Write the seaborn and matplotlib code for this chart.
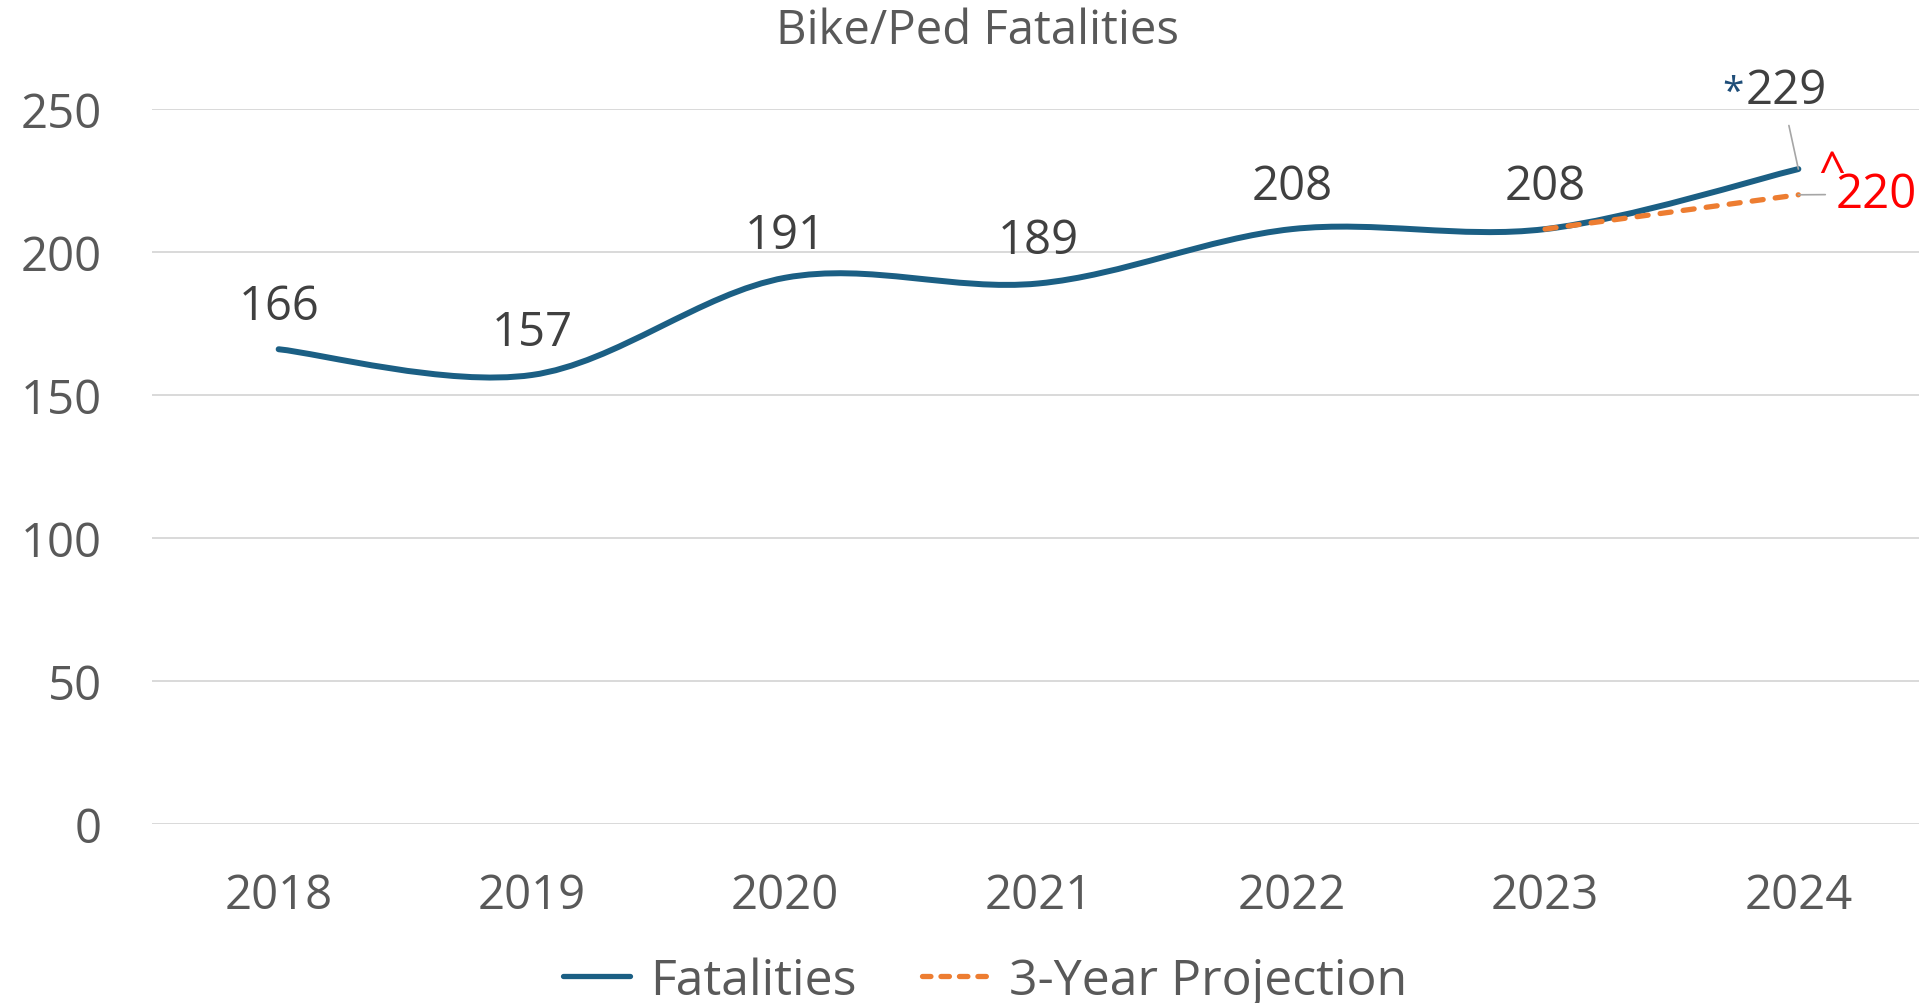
import numpy as np
import pandas as pd
import matplotlib
matplotlib.use("Agg")
import matplotlib.pyplot as plt
from matplotlib.path import Path
from matplotlib.patches import PathPatch
from matplotlib.lines import Line2D
import seaborn as sns

# ---- data ----
years = ["2018", "2019", "2020", "2021", "2022", "2023", "2024"]
fatalities = [166, 157, 191, 189, 208, 208, 229]
proj_years = ["2023", "2024"]
projection = [208, 220]
yticks = [0, 50, 100, 150, 200, 250]

title = "Bike/Ped Fatalities"
series_names = ["Fatalities", "3-Year Projection"]

# ---- style ----
sns.set_theme(style="whitegrid")
plt.rcParams["font.family"] = ["Open Sans", "DejaVu Sans"]

BLUE = "#1B5F84"
ORANGE = "#ED7D31"
GRID = "#D9D9D9"
TICK = "#595959"
LABEL = "#404040"
FS = 34
LW_MAIN = 4.3
LW_PROJ = 3.8
DASH = (0, (2.1, 2.3))

W, H = 1919, 1004
fig = plt.figure(figsize=(W / 100, H / 100), dpi=100)
fig.patch.set_facecolor("white")
ax = fig.add_axes([152 / W, 1 - 825 / H, (1925 - 152) / W, (825 - 110) / H])
ax.set_facecolor("white")

df = pd.DataFrame({"Year": years, "Fatalities": fatalities})
dfp = pd.DataFrame({"Year": proj_years, "Projection": projection})
sns.lineplot(data=df, x="Year", y="Fatalities", ax=ax, color=BLUE, linewidth=LW_MAIN)
sns.lineplot(data=dfp, x="Year", y="Projection", ax=ax, color=ORANGE, linewidth=LW_PROJ)


def smooth_path(xy):
    """Excel-style smoothed line rendered as cubic Bezier segments."""
    n = len(xy)
    verts = [tuple(xy[0])]
    codes = [Path.MOVETO]
    for i in range(n - 1):
        p0 = xy[max(i - 1, 0)]
        p1 = xy[i]
        p2 = xy[i + 1]
        p3 = xy[min(i + 2, n - 1)]
        c1 = p1 + (p2 - p0) / 6.0
        c2 = p2 - (p3 - p1) / 6.0
        verts += [tuple(c1), tuple(c2), tuple(p2)]
        codes += [Path.CURVE4] * 3
    return Path(verts, codes)


styles = [dict(linestyle="-"), dict(linestyle=DASH)]
for line, st in zip(list(ax.lines), styles):
    xy = np.asarray(line.get_xydata(), dtype=float)
    patch = PathPatch(smooth_path(xy), facecolor="none", edgecolor=line.get_color(),
                      linewidth=line.get_linewidth(), capstyle="round", joinstyle="round",
                      zorder=3, **st)
    ax.add_patch(patch)
    line.set_visible(False)

main_xy = np.asarray(ax.lines[0].get_xydata(), dtype=float)
proj_xy = np.asarray(ax.lines[1].get_xydata(), dtype=float)

# ---- axes ----
ax.set_xlim(-0.5, len(years) - 0.5)
ax.set_ylim(0, 250)
ax.set_yticks(yticks)
ax.set_xlabel("")
ax.set_ylabel("")
for s in ax.spines.values():
    s.set_visible(False)
ax.grid(False)
ax.yaxis.grid(True, color=GRID, linewidth=1.4)
ax.set_axisbelow(True)
ax.tick_params(axis="y", length=0, pad=36, labelsize=FS, labelcolor=TICK)
ax.tick_params(axis="x", length=0, pad=34, labelsize=FS, labelcolor=TICK)

# ---- data labels ----
for i, (x, y) in enumerate(main_xy[:-1]):
    ax.annotate(f"{fatalities[i]}", xy=(x, y), xytext=(0, 21.6), textcoords="offset points",
                ha="center", va="baseline", fontsize=FS, color=LABEL)

# last point (229) with leader line and asterisk
xl, yl = main_xy[-1]
ax.annotate(f"{fatalities[-1]}", xy=(xl, yl), xytext=(-8.6, 47.5), textcoords="offset points",
            ha="center", va="baseline", fontsize=FS, color=LABEL,
            arrowprops=dict(arrowstyle="-", color="#A6A6A6", lw=1.2, shrinkA=6, shrinkB=0,
                            relpos=(0.5, 0)))
ax.annotate("*", xy=(xl, yl), xytext=(-47, 47.5), textcoords="offset points",
            ha="center", va="baseline", fontsize=28, color="#1F4E79")

# projection label (^220)
xp, yp = proj_xy[-1]
ax.annotate(f"{projection[-1]}", xy=(xp, yp), xytext=(56, -9), textcoords="offset points",
            ha="center", va="baseline", fontsize=FS, color="#FF0000",
            arrowprops=dict(arrowstyle="-", color="#A6A6A6", lw=1.2, shrinkA=5, shrinkB=0,
                            relpos=(0, 0.5)))
ax.annotate("^", xy=(xp, yp), xytext=(24, 7), textcoords="offset points",
            ha="center", va="baseline", fontsize=FS, color="#FF0000")

# ---- title ----
fig.text(977 / W, 1 - 44 / H, title, ha="center", va="baseline", fontsize=FS, color=TICK)

# ---- legend ----
handles = [
    Line2D([], [], color=BLUE, linewidth=LW_PROJ, solid_capstyle="round"),
    Line2D([], [], color=ORANGE, linewidth=LW_PROJ, linestyle=(0, (1.6, 1.9)),
           dash_capstyle="round"),
]
leg = fig.legend(handles, series_names, loc="center", bbox_to_anchor=(985 / W, 1 - 982 / H),
                 ncol=2, frameon=False, fontsize=36, handlelength=1.35, handletextpad=0.4,
                 columnspacing=1.3, borderaxespad=0, borderpad=0)
for t in leg.get_texts():
    t.set_color(TICK)

fig.savefig("out.png", dpi=100, facecolor="white")
